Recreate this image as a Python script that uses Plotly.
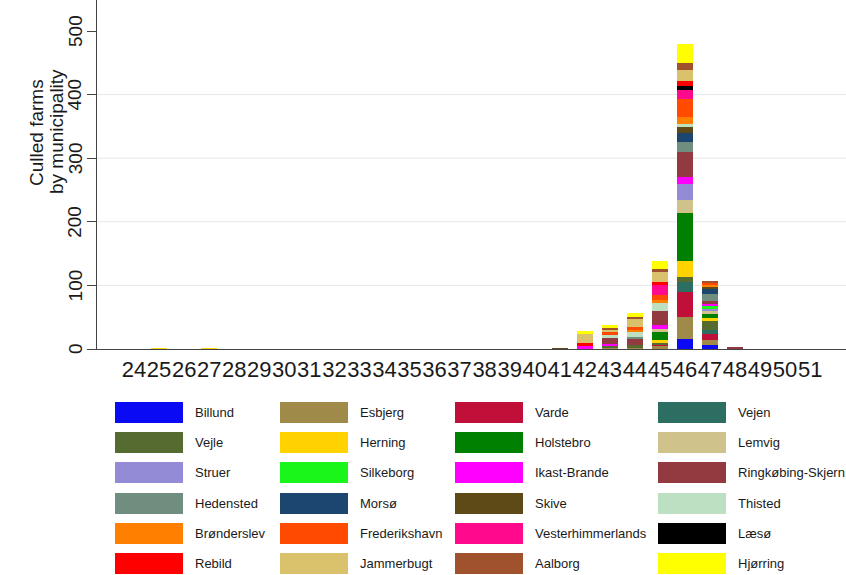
import plotly.graph_objects as go

# Weeks shown on the horizontal axis
weeks = list(range(24, 52))
week_labels = [str(w) for w in weeks]

# Vertical axis ticks
y_ticks = [0, 100, 200, 300, 400, 500]

# Axis title, one entry per line
y_title_lines = ["Culled farms", "by municipality"]

# Municipalities in stacking order (bottom to top) and their fill colours
municipalities = [
    "Billund", "Esbjerg", "Varde", "Vejen",
    "Vejle", "Herning", "Holstebro", "Lemvig",
    "Struer", "Silkeborg", "Ikast-Brande", "Ringkøbing-Skjern",
    "Hedensted", "Morsø", "Skive", "Thisted",
    "Brønderslev", "Frederikshavn", "Vesterhimmerlands", "Læsø",
    "Rebild", "Jammerbugt", "Aalborg", "Hjørring",
]
colors = [
    "#0A0AF5", "#A08A4A", "#C0103A", "#2D6E63",
    "#566B30", "#FFD200", "#008000", "#CFC28A",
    "#938BD6", "#1AF51A", "#FF00FF", "#933A40",
    "#6F8E80", "#1C456F", "#5E4A16", "#BEE0C2",
    "#FF8000", "#FF4A00", "#FF0A8C", "#000000",
    "#FF0000", "#D9C26B", "#A0522D", "#FFFF00",
]

# Culled farms per municipality (same order as above) for weeks with culls
w25 = [0, 0, 0, 0, 0, 1, 0, 0, 0, 0, 0, 0, 0, 0, 0, 0, 0, 0, 0, 0, 0, 0, 0, 0]
w27 = [0, 0, 0, 0, 0, 1, 0, 0, 0, 0, 0, 0, 0, 0, 0, 0, 0, 0, 0, 0, 0, 0, 0, 0]
w41 = [0, 0, 0, 0, 0, 0, 0, 0, 0, 0, 0, 0, 0, 0, 1, 0, 0, 0, 0, 0, 0, 0, 0, 0]
w42 = [0, 0, 0, 0, 0, 0, 0, 0, 0, 0, 4, 0, 0, 0, 0, 0, 0, 0, 0, 0, 6, 14, 0, 4]
w43 = [0, 3, 0, 0, 3, 0, 0, 0, 0, 0, 2, 9, 0, 0, 0, 5, 0, 4, 0, 0, 0, 4, 3, 4]
w44 = [0, 3, 0, 0, 3, 0, 0, 0, 0, 0, 0, 10, 3, 0, 0, 8, 3, 4, 0, 0, 0, 13, 4, 6]
w45 = [0, 5, 2, 0, 2, 5, 14, 3, 0, 0, 6, 22, 0, 0, 0, 13, 5, 8, 15, 0, 5, 16, 5, 13]
w46 = [15, 36, 39, 16, 7, 26, 75, 20, 25, 0, 12, 39, 16, 13, 10, 4, 12, 28, 15, 5, 8, 17, 12, 30]
w47 = [6, 8, 10, 6, 14, 4, 7, 4, 4, 5, 2, 6, 10, 8, 5, 0, 2, 4, 0, 0, 0, 0, 2, 0]
w48 = [0, 0, 0, 0, 0, 0, 0, 0, 0, 0, 0, 2, 0, 0, 0, 0, 0, 0, 0, 0, 0, 0, 0, 0]

weekly = {25: w25, 27: w27, 41: w41, 42: w42, 43: w43, 44: w44,
          45: w45, 46: w46, 47: w47, 48: w48}

# Figure geometry in pixels
W, H = 846, 575
PL, PR, PT, PB = 97, 0, 0, 226
plot_w = W - PL - PR
plot_h = H - PT - PB


def px_x(x):
    return (x - PL) / plot_w


def px_y(y):
    return (H - PB - y) / plot_h


fig = go.Figure()
for i, name in enumerate(municipalities):
    vals = [weekly[w][i] if w in weekly else 0 for w in weeks]
    fig.add_trace(go.Bar(
        x=weeks, y=vals, name=name, width=0.64,
        marker=dict(color=colors[i], line=dict(width=0)),
        showlegend=False,
    ))

font_family = "Liberation Sans, Arial, sans-serif"
text_color = "#1a1a1a"

fig.update_layout(
    width=W, height=H,
    margin=dict(l=PL, r=PR, t=PT, b=PB),
    barmode="stack",
    bargap=0,
    paper_bgcolor="white",
    plot_bgcolor="white",
    font=dict(family=font_family, color=text_color),
)

fig.update_xaxes(
    range=[22.52, 22.52 + plot_w / 25.04],
    tickmode="array", tickvals=weeks, ticktext=week_labels,
    tickangle=0, ticks="", showgrid=False, zeroline=False,
    showline=True, linecolor="#444444", linewidth=1.2,
    tickfont=dict(size=22, color=text_color),
)

fig.update_yaxes(
    range=[0, plot_h / 0.636],
    tickmode="array", tickvals=y_ticks, showticklabels=False,
    ticks="outside", ticklen=9, tickcolor="#444444", tickwidth=1.2,
    showline=True, linecolor="#444444", linewidth=1.2,
    showgrid=False, zeroline=False,
)

# vertical tick labels, reading bottom to top
for t in y_ticks:
    fig.add_annotation(
        text=str(t), textangle=-90, xref="paper", yref="y",
        x=px_x(75), y=t, showarrow=False,
        font=dict(size=19, color=text_color),
        xanchor="center", yanchor="middle",
    )

# light horizontal grid lines
for g in y_ticks[1:-1]:
    fig.add_shape(type="line", xref="paper", yref="y", x0=0, x1=1, y0=g, y1=g,
                  line=dict(color="#E6E6E6", width=1), layer="below")

# rotated two-line axis title
for line_text, cx in zip(y_title_lines, [36, 56]):
    fig.add_annotation(
        text=line_text, textangle=-90,
        xref="paper", yref="paper", x=px_x(cx), y=px_y(132),
        showarrow=False, font=dict(size=19, color=text_color),
        xanchor="center", yanchor="middle",
    )

# legend: four columns, filled row by row
swatch_x = [115, 280, 455, 658]
label_x = [193, 358, 533, 736]
row_top = [402, 432, 462, 493, 523, 553]
sw_w, sw_h = 68, 21
for i, name in enumerate(municipalities):
    r, c = divmod(i, 4)
    x0, y0 = swatch_x[c], row_top[r]
    fig.add_shape(type="rect", xref="paper", yref="paper",
                  x0=px_x(x0), x1=px_x(x0 + sw_w),
                  y0=px_y(y0 + sw_h), y1=px_y(y0),
                  fillcolor=colors[i], line=dict(width=0))
    fig.add_annotation(text=name, xref="paper", yref="paper",
                       x=px_x(label_x[c]), y=px_y(y0 + sw_h / 2),
                       xanchor="left", yanchor="middle", showarrow=False,
                       font=dict(size=13, color=text_color))

fig.write_html("out.html")
